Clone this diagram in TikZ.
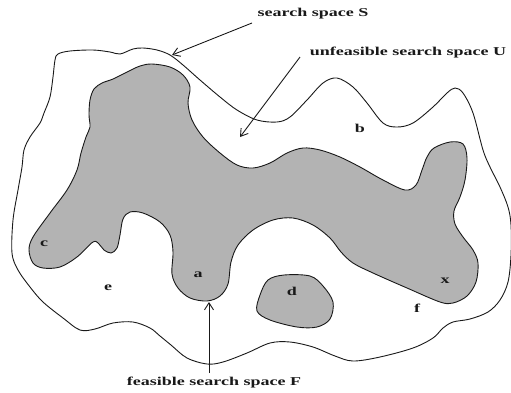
\documentclass[tikz,border=0pt]{standalone}
\usepackage{fontspec}
\usepackage{tikz}
\usetikzlibrary{arrows.meta}
\newfontfamily\lblfont[FakeStretch=1.5]{Liberation Serif Bold}
\definecolor{feasFill}{RGB}{179,179,179}
\definecolor{ink}{RGB}{25,25,25}
\tikzset{
  border/.style={draw=ink, line width=0.9pt},
  feasible/.style={border, fill=feasFill},
  pointer/.style={-{Straight Barb[length=7pt,width=9pt]}, draw=ink, line width=0.9pt},
  label/.style={font=\lblfont\fontsize{12}{13}\selectfont, inner sep=0pt, text=ink},
  point/.style={label}
}

\begin{document}
\begin{tikzpicture}[x=1pt, y=-1pt]
  \useasboundingbox (0,0) rectangle (511,392);

  % search space S
  \draw[border] plot[smooth cycle, tension=0.55] coordinates {
    (55,60) (58,54) (70,51) (93,50) (110,52) (120,54) (133,49) (143,48)
    (157,50) (170,55) (183,65) (200,80) (220,97) (237,110) (257,120)
    (277,122) (290,117) (307,100) (323,83) (337,78) (353,87) (367,103)
    (383,123) (397,127) (413,123) (433,107) (447,93) (455,88) (463,93)
    (473,113) (483,150) (490,167) (500,187) (508,207) (511,225) (511,255)
    (508,282) (500,300) (488,312) (470,319) (453,322) (443,328) (433,338)
    (413,348) (380,357) (353,361) (335,356) (313,347) (290,342) (270,343)
    (247,353) (223,362) (207,364) (187,358) (171,345) (160,336) (150,328)
    (133,322) (113,323) (95,329) (80,330) (63,318) (43,302) (30,287)
    (18,270) (12,253) (13,220) (18,190) (22,167) (24,150) (30,137)
    (40,123) (44,113) (50,97) (53,77)};

  % feasible part F
  \draw[feasible] plot[smooth cycle, tension=0.55] coordinates {
    (89,115) (90,100) (94,89) (102,83) (113,79) (127,72) (140,66) (152,64)
    (170,67) (183,75) (190,87) (188,103) (192,120) (203,137) (220,153)
    (237,165) (253,168) (270,163) (287,153) (303,148) (320,150) (340,157)
    (360,167) (383,180) (405,190) (416,185) (422,170) (427,157) (434,148)
    (450,142) (463,144) (467,158) (465,180) (460,197) (454,211) (455,224)
    (463,237) (473,250) (478,263) (476,282) (467,296) (453,303) (440,302)
    (407,288) (373,273) (353,263) (341,252) (330,238) (313,225) (293,218)
    (273,220) (253,230) (238,245) (231,262) (228,284) (220,296) (207,301)
    (190,298) (178,288) (172,274) (173,252) (170,235) (160,222) (143,213)
    (130,212) (123,219) (120,235) (117,248) (111,253) (104,250) (99,244)
    (93,242) (77,257) (60,267) (43,268) (33,263) (29,250) (33,237)
    (50,213) (67,190) (77,170) (81,153) (86,137) (90,127)};
  \draw[feasible] plot[smooth cycle, tension=0.55] coordinates {
    (260,295) (268,280) (284,275) (310,276) (323,286) (333,302) (330,319)
    (317,327) (297,327) (270,320) (257,311)};

  % texts
  \node[label] (lblS) at (313,14) {search space S};
  \node[label] (lblU) at (408,53) {unfeasible search space U};
  \node[label] (lblF) at (214,383) {feasible search space F};

  \node[point] (ptB) at (360,128) {b};
  \node[point] (ptC) at (44,244) {c};
  \node[point] (ptE) at (108,288) {e};
  \node[point] (ptA) at (198,275) {a};
  \node[point] (ptD) at (292,291) {d};
  \node[point] (ptX) at (445,281) {x};
  \node[point] (ptF) at (417,308) {f};

  \coordinate (tailS) at (252,23);
  \coordinate (tipS) at (172,55);
  \coordinate (tailU) at (300,57);
  \coordinate (tipU) at (240,137);
  \coordinate (tailF) at (209,373);
  \coordinate (tipF) at (209,302);

  \draw[pointer] (tailS) -- (tipS);
  \draw[pointer] (tailU) -- (tipU);
  \draw[pointer] (tailF) -- (tipF);
\end{tikzpicture}
\end{document}
